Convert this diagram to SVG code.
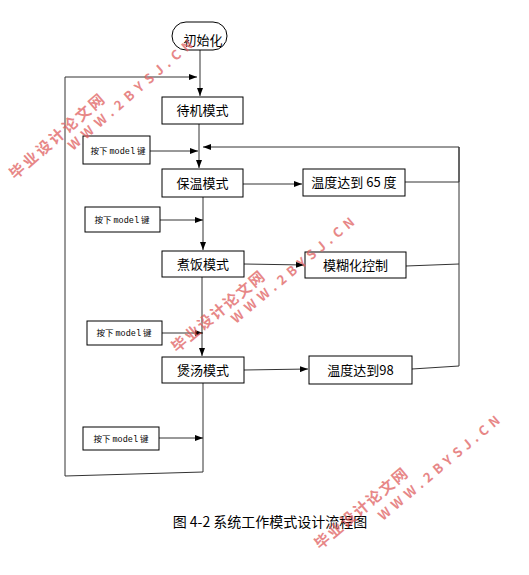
<svg xmlns="http://www.w3.org/2000/svg" width="529" height="575" viewBox="0 0 529 575">
<style>
.box{fill:#fff;stroke:#000;stroke-width:1}
.t{font-family:"Noto Sans CJK SC","Liberation Sans",sans-serif;font-size:13px;fill:#000;text-anchor:middle}
.s{font-family:"Noto Sans CJK SC","Liberation Sans",sans-serif;font-size:8.5px;fill:#000;text-anchor:middle}
.m{font-family:"Liberation Mono",monospace}
.c{fill:none;stroke:#333;stroke-width:1}
.a{marker-end:url(#ah)}
.wm{font-family:"Noto Sans CJK SC","Liberation Sans",sans-serif;font-weight:bold;fill:#e06060;opacity:0.75}
.cap{font-family:"Noto Sans CJK SC","Liberation Sans",sans-serif;font-size:14px;fill:#000;text-anchor:middle}
</style>
<defs>
<marker id="ah" viewBox="0 0 8 6" refX="8" refY="3" markerWidth="8" markerHeight="6" markerUnits="userSpaceOnUse" orient="auto">
<path d="M0,0 L8,3 L0,6 z" fill="#000"/>
</marker>
</defs>
<rect width="529" height="575" fill="#fff"/>

<g id="connectors">
<line class="c a" x1="200" y1="50" x2="200" y2="96"/>
<polyline class="c a" points="203,383 203,472 65,476 65,77 197,77"/>
<line class="c a" x1="199" y1="124" x2="199" y2="168"/>
<line class="c a" x1="150" y1="151" x2="198" y2="151"/>
<polyline class="c a" points="405,182 459,182 459,147 203,147"/>
<line class="c" x1="412" y1="369" x2="459" y2="366"/>
<line class="c" x1="406" y1="266" x2="459" y2="264"/>
<line class="c" x1="459" y1="147" x2="459" y2="366"/>
<line class="c a" x1="243" y1="184" x2="302" y2="184"/>
<line class="c a" x1="160" y1="220" x2="203" y2="220"/>
<line class="c a" x1="203" y1="197" x2="203" y2="250"/>
<line class="c a" x1="244" y1="264" x2="304" y2="265"/>
<line class="c a" x1="202" y1="277" x2="202" y2="356"/>
<line class="c a" x1="162" y1="333" x2="203" y2="333"/>
<line class="c a" x1="244" y1="370" x2="308" y2="369"/>
<line class="c a" x1="159" y1="438" x2="203" y2="438"/>
</g>

<g id="init">
<rect class="box" x="172" y="22" width="55" height="28" rx="14" ry="14"/>
<text class="t" x="203" y="45">初始化</text>
</g>
<g id="standby">
<rect class="box" x="162" y="97" width="81" height="27"/>
<text class="t" x="202.5" y="115">待机模式</text>
</g>
<g id="key1">
<rect class="box" x="83" y="136" width="67" height="28"/>
<text class="s" x="118" y="154">按下 <tspan class="m">model</tspan> 键</text>
</g>
<g id="keepwarm">
<rect class="box" x="162" y="169" width="81" height="28"/>
<text class="t" x="202.5" y="188">保温模式</text>
</g>
<g id="temp65">
<rect class="box" x="303" y="169" width="102" height="27"/>
<text class="t" x="354" y="187">温度达到 65 度</text>
</g>
<g id="key2">
<rect class="box" x="85" y="207" width="75" height="25"/>
<text class="s" x="122" y="223">按下 <tspan class="m">model</tspan> 键</text>
</g>
<g id="cookrice">
<rect class="box" x="162" y="251" width="82" height="26"/>
<text class="t" x="203" y="269">煮饭模式</text>
</g>
<g id="fuzzy">
<rect class="box" x="305" y="252" width="101" height="26"/>
<text class="t" x="355.5" y="270">模糊化控制</text>
</g>
<g id="key3">
<rect class="box" x="87" y="321" width="75" height="24"/>
<text class="s" x="124" y="336">按下 <tspan class="m">model</tspan> 键</text>
</g>
<g id="soup">
<rect class="box" x="162" y="357" width="82" height="26"/>
<text class="t" x="203" y="375">煲汤模式</text>
</g>
<g id="temp98">
<rect class="box" x="309" y="356" width="103" height="28"/>
<text class="t" x="360.5" y="375">温度达到98</text>
</g>
<g id="key4">
<rect class="box" x="83" y="427" width="76" height="23"/>
<text class="s" x="121" y="442">按下 <tspan class="m">model</tspan> 键</text>
</g>

<text class="cap" x="270" y="527">图 4-2 系统工作模式设计流程图</text>

<g id="watermarks">
<text class="wm" font-size="15" transform="translate(15,180) rotate(-41)" textLength="120" lengthAdjust="spacing">毕业设计论文网</text>
<text class="wm" font-size="13" transform="translate(73,151) rotate(-41)" textLength="160" lengthAdjust="spacing">WWW.2BYSJ.CN</text>
<text class="wm" font-size="15" transform="translate(177,353) rotate(-40)" textLength="116" lengthAdjust="spacing">毕业设计论文网</text>
<text class="wm" font-size="13" transform="translate(236,324) rotate(-40)" textLength="156" lengthAdjust="spacing">WWW.2BYSJ.CN</text>
<text class="wm" font-size="15" transform="translate(320,550) rotate(-40)" textLength="116" lengthAdjust="spacing">毕业设计论文网</text>
<text class="wm" font-size="13" transform="translate(383,521) rotate(-40)" textLength="154" lengthAdjust="spacing">WWW.2BYSJ.CN</text>
</g>
</svg>
